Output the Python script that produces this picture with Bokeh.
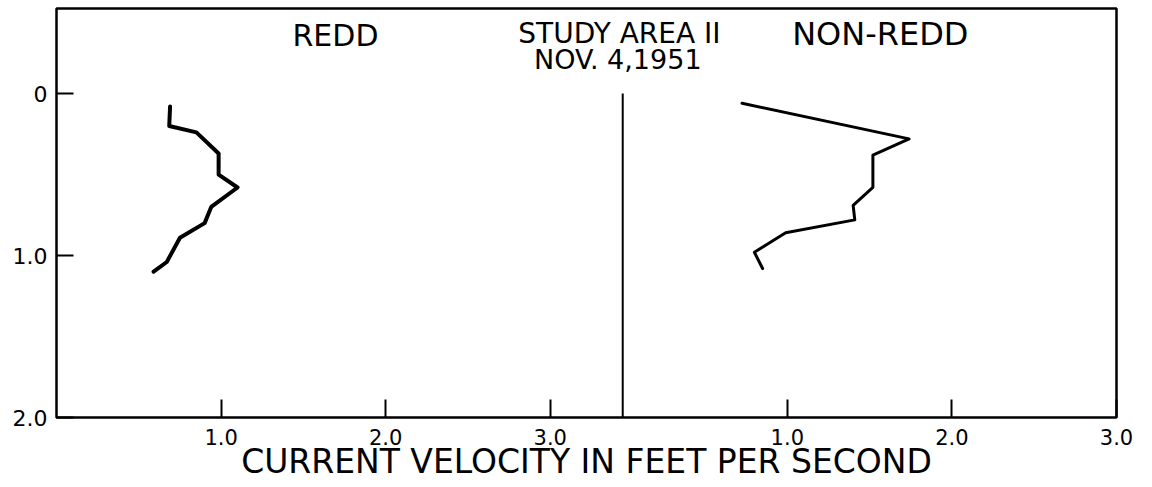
from bokeh.plotting import figure
from bokeh.models import Range1d, FixedTicker, CustomJSTickFormatter
from bokeh.core.properties import value
from bokeh.embed import file_html
from bokeh.resources import INLINE

# ---- data ----
redd_velocity = [0.69, 0.685, 0.85, 0.985, 0.985, 1.10, 0.94, 0.90, 0.75, 0.67, 0.59]
redd_depth = [0.08, 0.20, 0.24, 0.37, 0.50, 0.58, 0.70, 0.80, 0.89, 1.04, 1.10]
nonredd_velocity = [0.725, 1.74, 1.52, 1.52, 1.40, 1.41, 0.99, 0.80, 0.85]
nonredd_depth = [0.06, 0.28, 0.38, 0.58, 0.69, 0.78, 0.86, 0.98, 1.08]

x_ticks = [1.0, 2.0, 3.0]
x_labels = ["1.0", "2.0", "3.0"]
y_ticks = [0.0, 1.0, 2.0]
y_labels = ["0", "1.0", "2.0"]

panel_titles = ["REDD", "NON-REDD"]
header = ["STUDY AREA II", "NOV. 4,1951"]
x_title = "CURRENT VELOCITY IN FEET PER SECOND"

# ---- layout constants ----
SPLIT = 3.44      # velocity at which the left (REDD) panel ends
RIGHT_MAX = 3.0
FONT = "DejaVu Sans"

p = figure(width=1152, height=487, output_backend="svg", toolbar_location=None,
           x_range=Range1d(0, SPLIT + RIGHT_MAX), y_range=Range1d(2.0, -0.525),
           min_border_left=56, min_border_right=36, min_border_top=8, min_border_bottom=70)
p.extra_x_ranges = {"non": Range1d(-SPLIT, RIGHT_MAX)}

p.grid.visible = False
p.background_fill_color = "white"
p.border_fill_color = "white"
p.outline_line_color = "black"
p.outline_line_width = 2.5

# x axis: ticks for both panels, labels from x_labels
xa = p.xaxis[0]
xa.ticker = FixedTicker(ticks=x_ticks + [t + SPLIT for t in x_ticks])
xa.formatter = CustomJSTickFormatter(args=dict(split=SPLIT, tvals=x_ticks, tlabels=x_labels), code="""
    const t = tick > split ? tick - split : tick;
    const i = tvals.findIndex(v => Math.abs(v - t) < 1e-6);
    return i >= 0 ? tlabels[i] : "";
""")
xa.axis_line_color = None
xa.major_tick_in = 18
xa.major_tick_out = 0
xa.major_tick_line_width = 2
xa.minor_tick_line_color = None
xa.major_label_standoff = 11
xa.major_label_text_font = FONT
xa.major_label_text_font_size = "21px"
xa.major_label_text_color = "black"
xa.axis_label = x_title
xa.axis_label_text_font = FONT
xa.axis_label_text_font_style = "normal"
xa.axis_label_text_font_size = "33px"
xa.axis_label_text_color = "black"
xa.axis_label_standoff = -6

ya = p.yaxis[0]
ya.ticker = FixedTicker(ticks=y_ticks)
ya.formatter = CustomJSTickFormatter(args=dict(tvals=y_ticks, tlabels=y_labels), code="""
    const i = tvals.findIndex(v => Math.abs(v - tick) < 1e-6);
    return i >= 0 ? tlabels[i] : "";
""")
ya.axis_line_color = None
ya.major_tick_in = 17
ya.major_tick_out = 0
ya.major_tick_line_width = 2
ya.minor_tick_line_color = None
ya.major_label_standoff = 9
ya.major_label_text_font = FONT
ya.major_label_text_font_size = "22px"
ya.major_label_text_color = "black"

# divider between panels (right panel's zero velocity)
p.segment(x0=[0], y0=[y_ticks[0]], x1=[0], y1=[y_ticks[-1]], x_range_name="non",
          line_color="black", line_width=2)

# velocity profiles
p.line(redd_velocity, redd_depth, line_color="black", line_width=4, line_join="round", line_cap="round")
p.line(nonredd_velocity, nonredd_depth, x_range_name="non", line_color="black", line_width=3,
       line_join="round", line_cap="round")

# texts
p.text(x=[1.695], y=[-0.358], text=[panel_titles[0]], text_font=value(FONT), text_font_size="30px",
       text_align="center", text_baseline="middle", text_color="black")
p.text(x=[1.565], y=[-0.37], text=[panel_titles[1]], x_range_name="non", text_font=value(FONT),
       text_font_size="32px", text_align="center", text_baseline="middle", text_color="black")
p.text(x=[3.42], y=[-0.37], text=[header[0]], text_font=value(FONT), text_font_size="28px",
       text_align="center", text_baseline="middle", text_color="black")
p.text(x=[3.41], y=[-0.21], text=[header[1]], text_font=value(FONT), text_font_size="27px",
       text_align="center", text_baseline="middle", text_color="black")

open("out.html", "w").write(file_html(p, INLINE))
